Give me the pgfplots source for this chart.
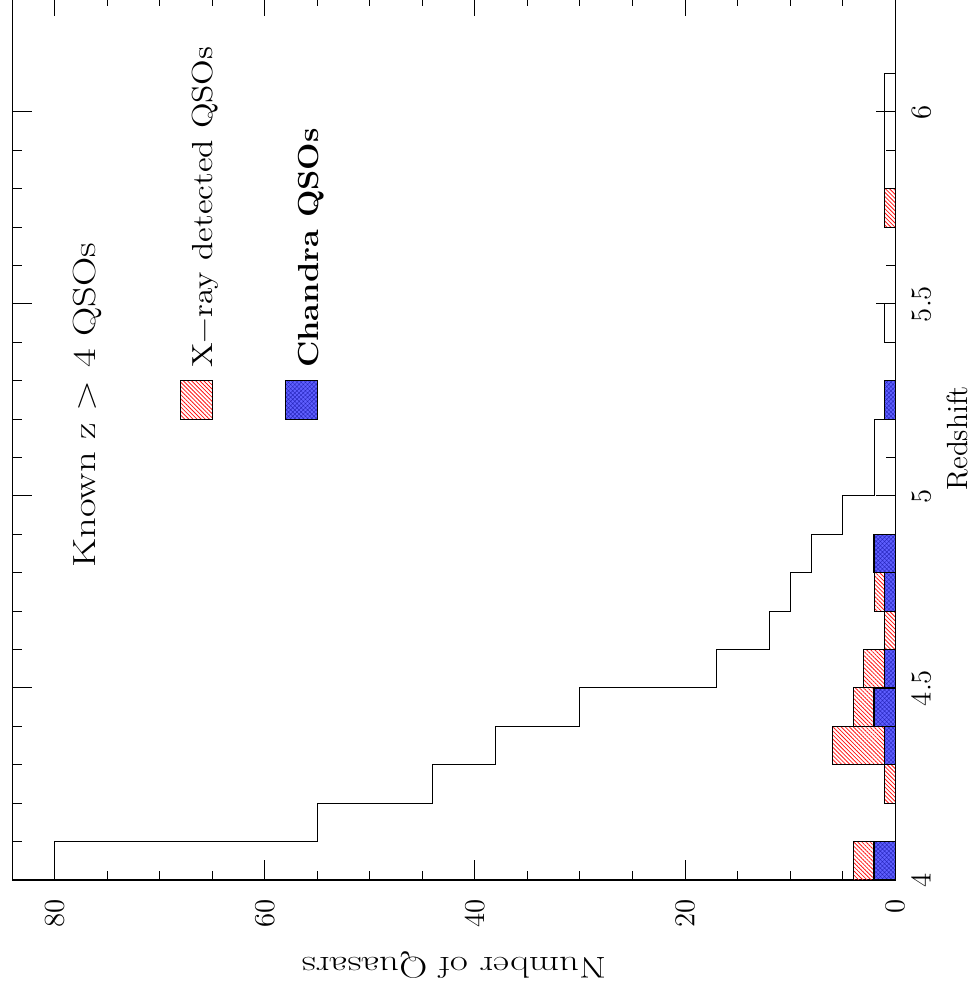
\documentclass[border=0pt]{standalone}
\usepackage{fontspec}
\usepackage{graphicx}
\usepackage{pgfplots}
\pgfplotsset{compat=1.18}
\usetikzlibrary{patterns,patterns.meta}
\definecolor{chblue}{RGB}{95,95,255}
\definecolor{chline}{RGB}{40,40,190}
\definecolor{hatchred}{RGB}{255,20,20}
\tikzset{
  redhatch/.style={draw=black, line width=0.5pt,
    pattern={Lines[angle=-45,distance=1.45pt,line width=0.4pt]}, pattern color=hatchred},
  bluehatch/.style={draw=black, line width=0.6pt, fill=chblue,
    postaction={pattern={Hatch[angle=45,distance=1.5pt,line width=0.2pt]}, pattern color=chline}},
}
\begin{document}
\begin{tikzpicture}
\begin{axis}[
  name=ax,
  scale only axis,
  width=441.2pt, height=441.6pt,
  x dir=reverse,
  xmin=0, xmax=84, ymin=4, ymax=6.3,
  xtick={0,20,40,60,80},
  minor x tick num=3,
  ytick={4,4.5,5,5.5,6},
  minor y tick num=4,
  tick align=inside,
  xtick pos=both, ytick pos=both,
  xticklabel pos=lower, yticklabel pos=right,
  major tick length=9.75pt, minor tick length=4.75pt,
  every tick/.style={line width=0.5pt, black},
  axis line style={line width=0.6pt},
  ticklabel style={font=\fontsize{15.5}{18}\selectfont, inner sep=0pt},
  xticklabel style={rotate=90, anchor=east, outer xsep=9.75pt},
  yticklabel style={rotate=90, anchor=north, outer ysep=8.5pt},
  xlabel={\scalebox{1.3}[1]{Number of Quasars}},
  ylabel={\scalebox{1.0}[1]{Redshift}},
  every axis x label/.style={at={(axis description cs:0.5,-0.0872)}, anchor=base, rotate=180, inner sep=0pt, font=\fontsize{15}{18}\selectfont},
  every axis y label/.style={at={(axis description cs:1.0816,0.5)}, anchor=base, rotate=90, inner sep=0pt, font=\fontsize{14.6}{17}\selectfont},
  clip=false,
]
% X-ray detected QSOs (red hatched)
\addplot[xbar, bar width=0.1, bar shift=0pt, redhatch] coordinates {
  (4,4.05) (1,4.25) (6,4.35) (4,4.45) (3,4.55) (1,4.65) (2,4.75) (2,4.85) (1,5.25) (1,5.75)
};
% Chandra QSOs (blue)
\addplot[xbar, bar width=0.1, bar shift=0pt, bluehatch] coordinates {
  (2,4.05) (1,4.35) (2,4.45) (1,4.55) (1,4.75) (2,4.85) (1,5.25)
};
% All known z>4 QSOs (step outline)
\addplot[const plot mark right, black, line width=0.5pt, mark=none] coordinates {
  (80,4.0) (55,4.1) (44,4.2) (38,4.3) (30,4.4) (17,4.5) (12,4.6) (10,4.7) (8,4.8) (5,4.9)
  (2,5.0) (2,5.1) (1,5.2) (0,5.3) (1,5.4) (0,5.5) (0,5.6) (1,5.7) (1,5.8) (1,5.9) (1,6.0) (0,6.1)
};
% legend patches
\addplot[redhatch] coordinates {(65,5.2) (68,5.2) (68,5.3) (65,5.3)} -- cycle;
\addplot[bluehatch] coordinates {(55,5.2) (58,5.2) (58,5.3) (55,5.3)} -- cycle;
\node[rotate=90, anchor=base west, inner sep=0pt, font=\fontsize{16}{19}\selectfont]
  at (axis cs:76.1,4.8125) {\scalebox{1.27}[1]{Known z > 4 QSOs}};
\node[rotate=90, anchor=base west, inner sep=0pt, font=\fontsize{14.5}{17}\selectfont]
  at (axis cs:65.0,5.333) {\scalebox{1.16}[1]{X−ray detected QSOs}};
\node[rotate=90, anchor=base west, inner sep=0pt, font=\fontsize{14.5}{17}\selectfont\bfseries]
  at (axis cs:54.9,5.333) {\scalebox{1.12}[1]{Chandra QSOs}};
\coordinate (bl) at (axis cs:84,4);
\coordinate (tr) at (axis cs:0,6.3);
\end{axis}
\pgfresetboundingbox
\useasboundingbox ([shift={(-6.35pt,-54.5pt)}]bl) rectangle ([shift={(38pt,-1.6pt)}]tr);
\end{tikzpicture}
\end{document}
